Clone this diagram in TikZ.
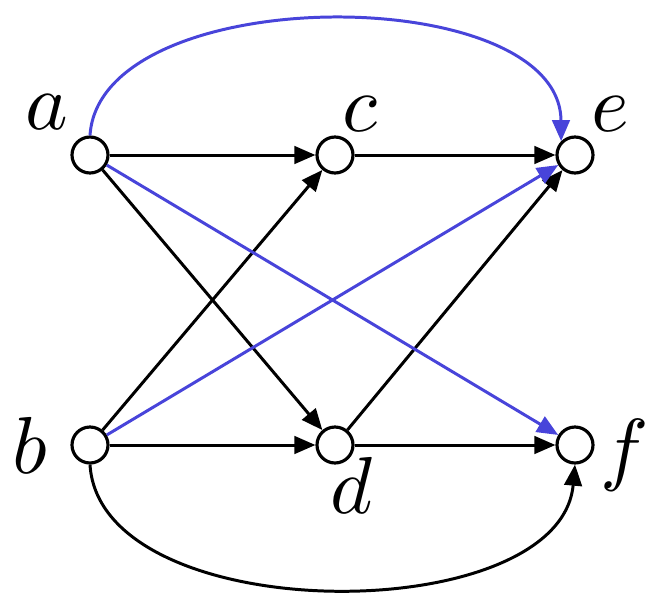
\documentclass[tikz,border=0pt]{standalone}
\usetikzlibrary{arrows.meta}
\definecolor{eblue}{RGB}{72,68,218}
\begin{document}
\begin{tikzpicture}[x=0.02cm,y=-0.02cm,
  vtx/.style={circle,draw,line width=1.8pt,fill=white,minimum size=0.72cm,inner sep=0pt},
  lab/.style={scale=4.6,inner sep=0pt},
  edge/.style={line width=1.7pt,-{Triangle[length=12pt,width=10pt]}}]
\useasboundingbox (0,0) rectangle (663,606);
\node[vtx] (a) at (90,155) {};
\node[vtx] (c) at (335,155) {};
\node[vtx] (e) at (575,155) {};
\node[vtx] (b) at (90,445) {};
\node[vtx] (d) at (335,445) {};
\node[vtx] (f) at (575,445) {};
\node[lab] (la) at (47,112) {$a$};
\node[lab] (lc) at (360,114) {$c$};
\node[lab] (le) at (610,114) {$e$};
\node[lab] (lb) at (30,445) {$b$};
\node[lab] (ld) at (352,485) {$d$};
\node[lab] (lf) at (625,455) {$f$};
\draw[edge] (a) -- (c);
\draw[edge] (c) -- (e);
\draw[edge] (a) -- (d);
\draw[edge] (b) -- (c);
\draw[edge] (b) -- (d);
\draw[edge] (d) -- (e);
\draw[edge] (d) -- (f);
\draw[edge,eblue] (a) -- (f);
\draw[edge,eblue] (b) -- (e);
\draw[edge,eblue] (a.north) .. controls (100,-20) and (560,-20) .. (e.north west);
\draw[edge] (b.south) .. controls (100,630) and (560,630) .. (f.south);
\end{tikzpicture}
\end{document}
